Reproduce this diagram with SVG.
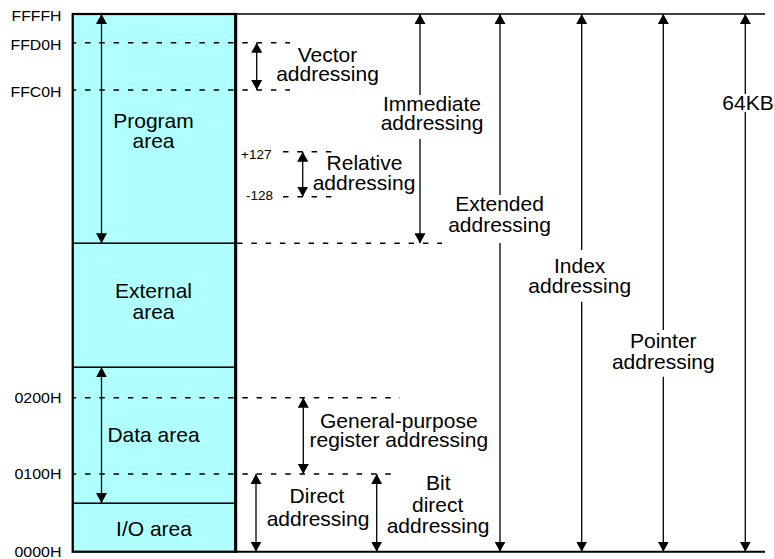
<svg xmlns="http://www.w3.org/2000/svg" width="774" height="559" viewBox="0 0 774 559">
  <defs>
    <marker id="ah" viewBox="0 0 10 11" refX="10" refY="5.5" markerWidth="10" markerHeight="11" markerUnits="userSpaceOnUse" orient="auto-start-reverse">
      <path d="M0,0 L10,5.5 L0,11 z" fill="#000"/>
    </marker>
    <style>
      .area { fill: #b0ffff; stroke: #000; stroke-width: 1.3; }
      .frame { fill: none; stroke: #000; stroke-width: 2.2; }
      .t { font-family: "Liberation Sans", Arial, sans-serif; font-size: 21px; fill: #000; text-anchor: middle; }
      .addr { font-family: "Liberation Sans", Arial, sans-serif; font-size: 14.5px; fill: #000; text-anchor: end; }
      .small { font-family: "Liberation Sans", Arial, sans-serif; font-size: 13.5px; fill: #000; }
      .arrow { fill: none; stroke: #000; stroke-width: 1.3; marker-start: url(#ah); marker-end: url(#ah); }
      .dash { fill: none; stroke: #000; stroke-width: 1.6; stroke-dasharray: 5.5 8.8; }
      .solid { fill: none; stroke: #000; }
    </style>
  </defs>
  <rect width="774" height="559" fill="#fff"/>

  <g id="program-area">
    <rect class="area" x="72.7" y="14" width="162.8" height="229.3"/>
    <text class="t" y="128.3"><tspan x="153.5">Program</tspan><tspan x="153.5" dy="20">area</tspan></text>
  </g>
  <g id="external-area">
    <rect class="area" x="72.7" y="243.3" width="162.8" height="124"/>
    <text class="t" y="298"><tspan x="153.5">External</tspan><tspan x="153.5" dy="21">area</tspan></text>
  </g>
  <g id="data-area">
    <rect class="area" x="72.7" y="367.3" width="162.8" height="136"/>
    <text class="t" x="153.5" y="441.7">Data area</text>
  </g>
  <g id="io-area">
    <rect class="area" x="72.7" y="503.3" width="162.8" height="48.4"/>
    <text class="t" x="154" y="536">I/O area</text>
  </g>
  <g id="memory-frame">
    <rect class="frame" x="72.7" y="14" width="162.8" height="537.7"/>
    <line class="solid" x1="235.7" y1="13" x2="235.7" y2="552.8" stroke-width="3"/>
    <line class="solid" x1="235.5" y1="14" x2="765" y2="14" stroke-width="1.5"/>
    <line class="solid" x1="235.5" y1="551.7" x2="765" y2="551.7" stroke-width="2"/>
  </g>

  <g id="address-labels">
    <text class="addr" x="61.5" y="20.7" textLength="50" lengthAdjust="spacingAndGlyphs">FFFFH</text>
    <text class="addr" x="61.5" y="50" textLength="51" lengthAdjust="spacingAndGlyphs">FFD0H</text>
    <text class="addr" x="61.5" y="96.7" textLength="51" lengthAdjust="spacingAndGlyphs">FFC0H</text>
    <text class="addr" x="61.5" y="403.3" textLength="47" lengthAdjust="spacingAndGlyphs">0200H</text>
    <text class="addr" x="61.5" y="479.3" textLength="47" lengthAdjust="spacingAndGlyphs">0100H</text>
    <text class="addr" x="61.5" y="557" textLength="47" lengthAdjust="spacingAndGlyphs">0000H</text>
    <text class="small" x="241" y="159">+127</text>
    <text class="small" x="246" y="200">-128</text>
  </g>

  <g id="guides">
    <line class="dash" x1="72" y1="42.7" x2="290" y2="42.7" stroke-dashoffset="1.3"/>
    <line class="dash" x1="72" y1="90" x2="290" y2="90" stroke-dashoffset="1.3"/>
    <line class="dash" x1="283" y1="151.7" x2="338" y2="151.7"/>
    <line class="dash" x1="283" y1="196.7" x2="338" y2="196.7"/>
    <line class="dash" x1="237" y1="243.3" x2="442" y2="243.3"/>
    <line class="dash" x1="72" y1="397.7" x2="400" y2="397.7" stroke-dashoffset="1.3"/>
    <line class="dash" x1="72" y1="474" x2="397" y2="474" stroke-dashoffset="1.3"/>
  </g>

  <g id="connectors">
    <path class="arrow" d="M101.5,14 L101.5,243.3"/>
    <path class="arrow" d="M101.5,367.3 L101.5,503"/>
    <path class="arrow" d="M256.7,42.7 L256.7,90"/>
    <path class="arrow" d="M302.7,151.7 L302.7,196.7"/>
    <path class="arrow" d="M420,14 L420,95 M420,139 L420,243.3"/>
    <path class="arrow" d="M500,14 L500,195 M500,243 L500,551.7"/>
    <path class="arrow" d="M581.7,14 L581.7,250 M581.7,301.7 L581.7,551.7"/>
    <path class="arrow" d="M663.3,14 L663.3,330 M663.3,376.7 L663.3,551.7"/>
    <path class="arrow" d="M745.3,14 L745.3,94 M745.3,112 L745.3,551.7"/>
    <path class="arrow" d="M303.3,397.7 L303.3,474"/>
    <path class="arrow" d="M256,474 L256,551.7"/>
    <path class="arrow" d="M376.7,474 L376.7,551.7"/>
  </g>

  <g id="mode-labels">
    <text class="t" y="61.7"><tspan x="327.5">Vector</tspan><tspan x="327.5" dy="19.3">addressing</tspan></text>
    <text class="t" y="111"><tspan x="432">Immediate</tspan><tspan x="432" dy="19">addressing</tspan></text>
    <text class="t" y="170"><tspan x="364.5">Relative</tspan><tspan x="364" dy="20">addressing</tspan></text>
    <text class="t" y="211"><tspan x="499.5">Extended</tspan><tspan x="499.5" dy="20.7">addressing</tspan></text>
    <text class="t" y="272.7"><tspan x="579.7">Index</tspan><tspan x="579.7" dy="20.6">addressing</tspan></text>
    <text class="t" y="348.3"><tspan x="663.3">Pointer</tspan><tspan x="663.3" dy="20.7">addressing</tspan></text>
    <text class="t" x="748" y="110">64KB</text>
    <text class="t" y="428.3"><tspan x="398.8">General-purpose</tspan><tspan x="398.8" dy="19">register addressing</tspan></text>
    <text class="t" y="503.3"><tspan x="317">Direct</tspan><tspan x="318" dy="22.4">addressing</tspan></text>
    <text class="t" y="490"><tspan x="438.3">Bit</tspan><tspan x="437.7" dy="21.7">direct</tspan><tspan x="438" dy="21.6">addressing</tspan></text>
  </g>
</svg>
